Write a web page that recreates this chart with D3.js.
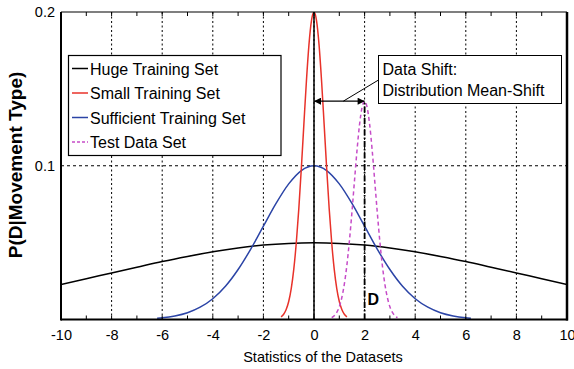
<!DOCTYPE html>
<html><head><meta charset="utf-8">
<script src="https://cdn.jsdelivr.net/npm/d3@7"></script>
<style>
body{margin:0;background:#fff;}
svg{display:block;font-family:"Liberation Sans",Arial,Helvetica,sans-serif;}
</style></head>
<body><svg id="c" width="574" height="369"></svg>
<script>
// ---- data ----
const seriesNames = ["Huge Training Set","Small Training Set","Sufficient Training Set","Test Data Set"];
const seriesColors = ["#000000","#e8322a","#2b44a6","#c64cc8"];

const hugeX = [-10,-9,-8,-7,-6,-5,-4,-3,-2,-1,0,1,2,3,4,5,6,7,8,9,10];
const hugeY = [0.0228,0.0265,0.0303,0.0340,0.0377,0.0410,0.0440,0.0465,0.0484,0.0495,0.0499,
               0.0495,0.0484,0.0465,0.0440,0.0410,0.0377,0.0340,0.0303,0.0265,0.0228];

const smallX = [-1.3,-1.2,-1.1,-1.0,-0.9,-0.8,-0.7,-0.6,-0.5,-0.4,-0.3,-0.2,-0.1,0,
                0.1,0.2,0.3,0.4,0.5,0.6,0.7,0.8,0.9,1.0,1.1,1.2,1.3];
const smallY = [0.0017,0.0034,0.0065,0.0117,0.0201,0.0326,0.0499,0.0721,0.0985,0.1271,0.1550,0.1786,0.1944,0.2,
                0.1944,0.1786,0.1550,0.1271,0.0985,0.0721,0.0499,0.0326,0.0201,0.0117,0.0065,0.0034,0.0017];

const suffX = [-6.2,-6,-5.5,-5,-4.5,-4,-3.5,-3,-2.5,-2,-1.5,-1,-0.5,0,
               0.5,1,1.5,2,2.5,3,3.5,4,4.5,5,5.5,6,6.2];
const suffY = [0.0008,0.0011,0.0023,0.0044,0.0080,0.0135,0.0216,0.0325,0.0458,0.0607,0.0755,0.0882,0.0969,0.1,
               0.0969,0.0882,0.0755,0.0607,0.0458,0.0325,0.0216,0.0135,0.0080,0.0044,0.0023,0.0011,0.0008];

const testX = [0.7,0.8,0.9,1.0,1.1,1.2,1.3,1.4,1.5,1.6,1.7,1.8,1.9,2.0,
               2.1,2.2,2.3,2.4,2.5,2.6,2.7,2.8,2.9,3.0,3.1,3.2,3.3];
const testY = [0.0012,0.0024,0.0046,0.0083,0.0143,0.0231,0.0354,0.0512,0.0699,0.0902,0.1100,0.1268,0.1380,0.142,
               0.1380,0.1268,0.1100,0.0902,0.0699,0.0512,0.0354,0.0231,0.0143,0.0083,0.0046,0.0024,0.0012];

const xTickValues = [-10,-8,-6,-4,-2,0,2,4,6,8,10];
const xMinorTicks = [-9,-7,-5,-3,-1,1,3,5,7,9];
const yTickValues = [0.1,0.2];
const xGrid = [-8,-6,-4,-2,0,2,4,6,8];
const yGrid = [0.1];
const shiftFrom = 0, shiftTo = 2, shiftLevel = 0.142;
const annotationLines = ["Data Shift:","Distribution Mean-Shift"];
const xTitle = "Statistics of the Datasets";
const yTitle = "P(D|Movement Type)";

// ---- layout ----
const svg = d3.select("#c");
const L = 61, R = 567, T = 12, B = 319.5;
const x = d3.scaleLinear().domain([-10,10]).range([L,R]);
const y = d3.scaleLinear().domain([0,0.2]).range([B,T]);

const defs = svg.append("defs");
defs.append("clipPath").attr("id","clip").append("rect")
  .attr("x",L).attr("y",T).attr("width",R-L).attr("height",B-T);
defs.append("marker").attr("id","ah").attr("viewBox","0 0 10 10")
  .attr("refX",10).attr("refY",5).attr("markerWidth",9).attr("markerHeight",7)
  .attr("markerUnits","userSpaceOnUse").attr("orient","auto-start-reverse")
  .append("path").attr("d","M0,0L10,5L0,10z").attr("fill","#000");

// grid
const g = svg.append("g");
g.selectAll(".vg").data(xGrid).join("line")
  .attr("x1",d=>x(d)).attr("x2",d=>x(d)).attr("y1",T).attr("y2",B)
  .attr("stroke","#000").attr("stroke-width",1).attr("stroke-dasharray","2,2.5");
g.selectAll(".hg").data(yGrid).join("line")
  .attr("x1",L).attr("x2",R).attr("y1",d=>y(d)).attr("y2",d=>y(d))
  .attr("stroke","#000").attr("stroke-width",1).attr("stroke-dasharray","3,3");

// curves
const line = d3.line().x(d=>x(d[0])).y(d=>y(d[1])).curve(d3.curveMonotoneX);
const curves = [
  {xs:hugeX, ys:hugeY, c:seriesColors[0], dash:null},
  {xs:suffX, ys:suffY, c:seriesColors[2], dash:null},
  {xs:smallX, ys:smallY, c:seriesColors[1], dash:null},
  {xs:testX, ys:testY, c:seriesColors[3], dash:"4,3"}
];
const cg = svg.append("g").attr("clip-path","url(#clip)");
curves.forEach(s=>{
  cg.append("path").datum(s.xs.map((v,i)=>[v,s.ys[i]]))
    .attr("d",line).attr("fill","none").attr("stroke",s.c)
    .attr("stroke-width",1.5).attr("stroke-dasharray",s.dash);
});

// marker lines
svg.append("line").attr("x1",x(shiftFrom)).attr("x2",x(shiftFrom)).attr("y1",B).attr("y2",T)
  .attr("stroke","#000").attr("stroke-width",1.5);
svg.append("line").attr("x1",x(shiftTo)).attr("x2",x(shiftTo)).attr("y1",B).attr("y2",y(shiftLevel))
  .attr("stroke","#000").attr("stroke-width",1.8).attr("stroke-dasharray","6,2,1.5,2");
svg.append("text").attr("x",x(shiftTo)+3).attr("y",305).attr("font-size",16).attr("font-weight","bold").text("D");

// shift arrow
const ay = y(shiftLevel);
svg.append("line").attr("x1",x(shiftFrom)).attr("x2",x(shiftTo)).attr("y1",ay).attr("y2",ay)
  .attr("stroke","#000").attr("stroke-width",1.2)
  .attr("marker-start","url(#ah)").attr("marker-end","url(#ah)");

// annotation
const ax0 = 378.5, ay0 = 55.5, aw = 183, ah = 48;
svg.append("line").attr("x1",(x(shiftFrom)+x(shiftTo))/2+4).attr("y1",ay)
  .attr("x2",ax0).attr("y2",80).attr("stroke","#000").attr("stroke-width",1);
svg.append("rect").attr("x",ax0).attr("y",ay0).attr("width",aw).attr("height",ah)
  .attr("fill","#fff").attr("stroke","#000").attr("stroke-width",1);
annotationLines.forEach((t,i)=>{
  svg.append("text").attr("x",ax0+4).attr("y",ay0+19+i*21).attr("font-size",16).text(t);
});

// ticks
const tk = svg.append("g").attr("stroke","#000").attr("stroke-width",1);
xTickValues.concat(xMinorTicks).forEach(v=>{
  tk.append("line").attr("x1",x(v)).attr("x2",x(v)).attr("y1",B).attr("y2",B-4);
  tk.append("line").attr("x1",x(v)).attr("x2",x(v)).attr("y1",T).attr("y2",T+4);
});

// axes (labels via d3 axes)
const xa = svg.append("g").attr("transform",`translate(0,${B})`)
  .call(d3.axisBottom(x).tickValues(xTickValues).tickSize(0).tickPadding(10).tickFormat(d=>String(d)));
xa.select(".domain").remove();
xa.selectAll("text").attr("font-size",14.5).attr("fill","#000").attr("font-family","Liberation Sans, Arial, sans-serif");
const ya = svg.append("g").attr("transform",`translate(${L},0)`)
  .call(d3.axisLeft(y).tickValues(yTickValues).tickSize(0).tickPadding(6).tickFormat(d3.format(".1f")));
ya.select(".domain").remove();
ya.selectAll("text").attr("font-size",14.5).attr("fill","#000").attr("font-family","Liberation Sans, Arial, sans-serif");

// frame
svg.append("line").attr("x1",L).attr("x2",R).attr("y1",T).attr("y2",T).attr("stroke","#000").attr("stroke-width",1.2);
svg.append("line").attr("x1",L).attr("x2",R+1).attr("y1",B).attr("y2",B).attr("stroke","#000").attr("stroke-width",2);
svg.append("line").attr("x1",L).attr("x2",L).attr("y1",T).attr("y2",B+1).attr("stroke","#000").attr("stroke-width",2);
svg.append("line").attr("x1",R).attr("x2",R).attr("y1",T).attr("y2",B+1).attr("stroke","#000").attr("stroke-width",2.5);

// titles
svg.append("text").attr("x",323).attr("y",362).attr("text-anchor","middle").attr("font-size",14.5).text(xTitle);
svg.append("text").attr("transform","translate(22,165) rotate(-90)").attr("text-anchor","middle")
  .attr("font-size",19).attr("font-weight","bold").text(yTitle);

// legend
const lg = svg.append("g");
lg.append("rect").attr("x",68.5).attr("y",55.5).attr("width",212.5).attr("height",100)
  .attr("fill","#fff").attr("stroke","#000").attr("stroke-width",1.2);
seriesNames.forEach((n,i)=>{
  const yy = 68.5 + i*24.5;
  lg.append("line").attr("x1",72).attr("x2",88).attr("y1",yy).attr("y2",yy)
    .attr("stroke",seriesColors[i]).attr("stroke-width",1.5)
    .attr("stroke-dasharray", i===3 ? "3,2" : null);
  lg.append("text").attr("x",90).attr("y",yy+6).attr("font-size",16).text(n);
});
</script></body></html>
